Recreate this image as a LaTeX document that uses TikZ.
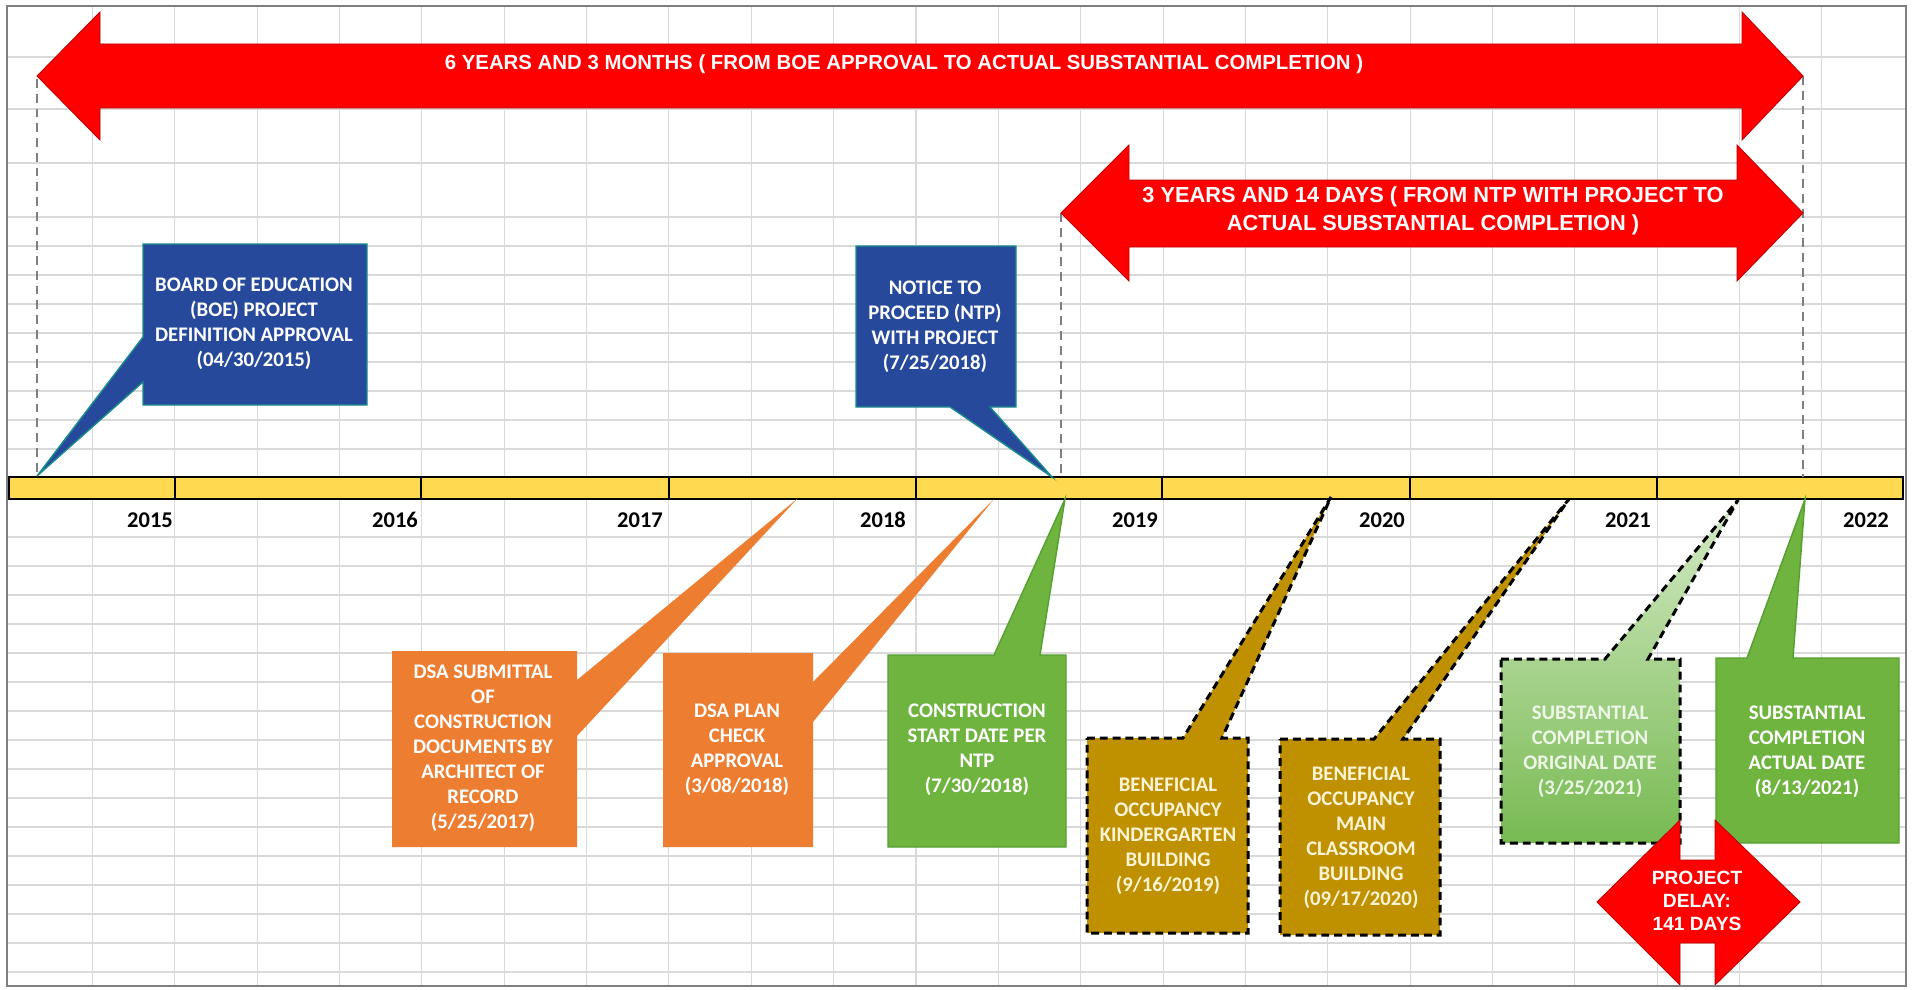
\documentclass[tikz,border=0pt]{standalone}
\usepackage{fontspec}
\setmainfont{Carlito}
\newfontfamily\arialfam{Liberation Sans}

\definecolor{gridgray}{HTML}{D9D9D9}
\definecolor{guidegray}{HTML}{7F7F7F}
\definecolor{barfill}{HTML}{FFD94F}
\definecolor{boxblue}{HTML}{27499B}
\definecolor{boxteal}{HTML}{1A8C8C}
\definecolor{boxorange}{HTML}{ED7D31}
\definecolor{boxgreen}{HTML}{6EB43F}
\definecolor{greenline}{HTML}{55A030}
\definecolor{boxgold}{HTML}{BF9000}
\definecolor{goldtext}{HTML}{FFF5D6}
\definecolor{paletop}{HTML}{D4EAC6}
\definecolor{palebot}{HTML}{78BA52}
\definecolor{paletext}{HTML}{EEF6E8}
\definecolor{bigred}{HTML}{FF0000}
\definecolor{redline}{HTML}{C00000}

\newcommand{\callfont}{\fontsize{11.8}{14.2}\selectfont\bfseries}
\newcommand{\arrowfont}{\fontsize{11.6}{15.3}\selectfont\arialfam\bfseries}
\newcommand{\spanfont}{\fontsize{12.4}{15.6}\selectfont\arialfam\bfseries}
\newcommand{\delayfont}{\fontsize{10.9}{13.0}\selectfont\arialfam\bfseries}
\newcommand{\yearfont}{\fontsize{12.8}{14}\selectfont\bfseries}

\begin{document}
\begin{tikzpicture}[x=0.02cm,y=-0.02cm,
    gridln/.style={draw=gridgray, line width=0.6pt},
    guide/.style={draw=guidegray, line width=1.1pt, dash pattern=on 5pt off 3.4pt},
    redarrow/.style={fill=bigred, draw=redline, line width=0.5pt},
    calltext/.style={text=white, align=center, inner sep=0pt, font=\callfont},
    arrowtext/.style={text=white, align=center, inner sep=0pt, font=\arrowfont},
    yearlbl/.style={inner sep=0pt, font=\yearfont},
    dashbox/.style={draw=black, line width=1.7pt, dash pattern=on 4.5pt off 2.8pt}]

    % page
    \fill[white] (0,0) rectangle (1916,990);
    \useasboundingbox (0,0) rectangle (1916,990);

    % grid rows
    \foreach \r in {57,109,163,217,246,275,...,449,537,566,...,972}
        \draw[gridln] (8,\r) -- (1905,\r);
    % grid columns
    \foreach \k in {1,...,22}
        \draw[gridln] ({10+82.36*\k},6) -- ({10+82.36*\k},986);

    % timeline bar
    \draw[fill=barfill, line width=1.3pt] (9,477) rectangle (1903,499);
    \foreach \d in {175,421,669,916,1162,1410,1657}
        \draw[line width=1.3pt] (\d,477) -- (\d,499);

    % years
    \foreach \yr/\xx in {2015/150,2016/395,2017/640,2018/883,2019/1135,2020/1382,2021/1628,2022/1866}
        \node[yearlbl] (y\yr) at (\xx,520) {\yr};

    % guide lines
    \coordinate (boetip) at (37,79);
    \coordinate (boebar) at (37,477);
    \coordinate (ntptip) at (1061,213);
    \coordinate (ntpbar) at (1061,477);
    \coordinate (endtip) at (1803,76);
    \coordinate (endbar) at (1803,477);
    \draw[guide] (boetip) -- (boebar);
    \draw[guide] (ntptip) -- (ntpbar);
    \draw[guide] (endtip) -- (endbar);

    % blue callouts
    \draw[fill=boxblue, draw=boxteal, line width=0.8pt] (143,244) -- (367,244) -- (367,405) -- (143,405) -- (143,382) -- (37,476) -- (143,337) -- cycle;
    \node[calltext] (boe) at (254,324) {BOARD OF EDUCATION\\(BOE) PROJECT\\DEFINITION APPROVAL\\(04/30/2015)};
    \draw[fill=boxblue, draw=boxteal, line width=0.8pt] (856,246) -- (1016,246) -- (1016,407) -- (990,407) -- (1052,477) -- (950,407) -- (856,407) -- cycle;
    \node[calltext] (ntp) at (935,327) {NOTICE TO\\PROCEED (NTP)\\WITH PROJECT\\(7/25/2018)};

    % orange callouts
    \fill[boxorange] (392,651) -- (577,651) -- (577,680) -- (797,499) -- (577,736) -- (577,847) -- (392,847) -- cycle;
    \node[calltext] (dsasub) at (483,748) {DSA SUBMITTAL\\OF\\CONSTRUCTION\\DOCUMENTS BY\\ARCHITECT OF\\RECORD\\(5/25/2017)};
    \fill[boxorange] (663,653) -- (813,653) -- (813,682) -- (994,499) -- (813,722) -- (813,847) -- (663,847) -- cycle;
    \node[calltext] (dsaplan) at (737,750) {DSA PLAN\\CHECK\\APPROVAL\\(3/08/2018)};

    % green callouts
    \draw[fill=boxgreen, draw=greenline, line width=0.8pt] (888,655) -- (994,655) -- (1065,499) -- (1040,655) -- (1066,655) -- (1066,847) -- (888,847) -- cycle;
    \node[calltext] (cstart) at (977,750) {CONSTRUCTION\\START DATE PER\\NTP\\(7/30/2018)};
    \draw[fill=boxgreen, draw=greenline, line width=0.8pt] (1716,658) -- (1747,658) -- (1805,499) -- (1793,658) -- (1899,658) -- (1899,843) -- (1716,843) -- cycle;
    \node[calltext] (actual) at (1807,752) {SUBSTANTIAL\\COMPLETION\\ACTUAL DATE\\(8/13/2021)};

    % gold callouts
    \draw[fill=boxgold, dashbox] (1087,738) -- (1183,738) -- (1331,497) -- (1222,738) -- (1248,738) -- (1248,933) -- (1087,933) -- cycle;
    \node[calltext, text=goldtext] (kinder) at (1168,836) {BENEFICIAL\\OCCUPANCY\\KINDERGARTEN\\BUILDING\\(9/16/2019)};
    \draw[fill=boxgold, dashbox] (1280,739) -- (1374,739) -- (1569,499) -- (1403,739) -- (1440,739) -- (1440,935) -- (1280,935) -- cycle;
    \node[calltext, text=goldtext] (mainbld) at (1361,838) {BENEFICIAL\\OCCUPANCY\\MAIN\\CLASSROOM\\BUILDING\\(09/17/2020)};

    % pale green callout
    \shade[top color=paletop, bottom color=palebot] (1501,659) -- (1605,659) -- (1738,500) -- (1648,659) -- (1680,659) -- (1680,843) -- (1501,843) -- cycle;
    \draw[dashbox] (1501,659) -- (1605,659) -- (1738,500) -- (1648,659) -- (1680,659) -- (1680,843) -- (1501,843) -- cycle;
    \node[calltext, text=paletext] (orig) at (1590,752) {SUBSTANTIAL\\COMPLETION\\ORIGINAL DATE\\(3/25/2021)};

    % big arrows
    \draw[redarrow] (37,76) -- (100,12) -- (100,44) -- (1742,44) -- (1742,12) -- (1803,76) -- (1742,140) -- (1742,108) -- (100,108) -- (100,140) -- cycle;
    \node[arrowtext] (span1) at (904,64) {6 YEARS AND 3 MONTHS ( FROM BOE APPROVAL TO ACTUAL SUBSTANTIAL COMPLETION )};
    \draw[redarrow] (1061,213) -- (1129,145) -- (1129,180) -- (1737,180) -- (1737,145) -- (1803,213) -- (1737,281) -- (1737,247) -- (1129,247) -- (1129,281) -- cycle;
    \node[arrowtext, font=\spanfont] (span2) at (1433,211) {3 YEARS AND 14 DAYS ( FROM NTP WITH PROJECT TO\\ACTUAL SUBSTANTIAL COMPLETION )};

    % delay arrow
    \draw[redarrow] (1597,902) -- (1680,820) -- (1680,860) -- (1715,860) -- (1715,820) -- (1800,902) -- (1715,985) -- (1715,943) -- (1680,943) -- (1680,985) -- cycle;
    \node[text=white, align=center, inner sep=0pt, font=\delayfont] (delay) at (1697,901) {PROJECT\\DELAY:\\141 DAYS};

    % frame
    \draw[guidegray, line width=1.1pt] (7,6) rectangle (1906,986);
\end{tikzpicture}
\end{document}
